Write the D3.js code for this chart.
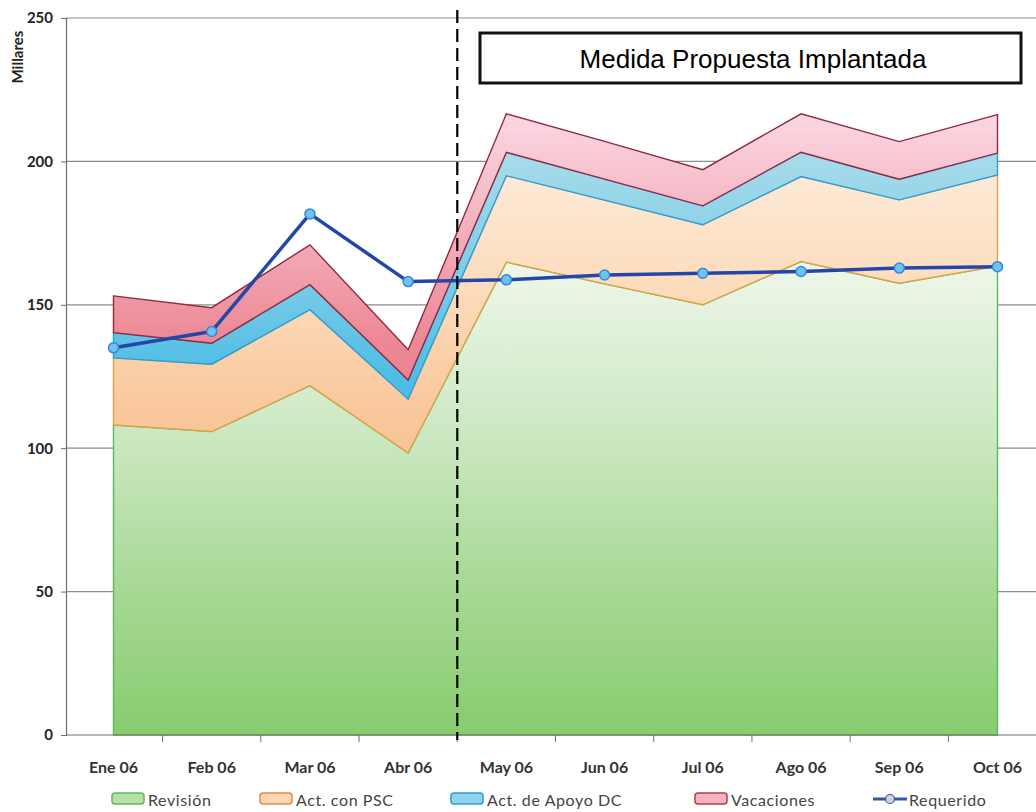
<!DOCTYPE html>
<html>
<head>
<meta charset="utf-8">
<script src="https://cdn.jsdelivr.net/npm/d3@7"></script>
<style>
  html, body { margin: 0; padding: 0; background: #ffffff; }
  svg { display: block; }
</style>
</head>
<body>
<svg id="chart" width="1036" height="812"></svg>
<script>
// Monthly hours (thousands) by activity, stacked, plus the required level
const months = ["Ene 06", "Feb 06", "Mar 06", "Abr 06", "May 06", "Jun 06", "Jul 06", "Ago 06", "Sep 06", "Oct 06"];
const revision   = [108.1, 105.8, 121.8, 98.3, 164.9, 157.3, 150.0, 165.1, 157.5, 163.5];
const actPSC     = [23.4, 23.5, 26.5, 18.8, 30.1, 29.2, 27.9, 29.6, 29.1, 31.8];
const actApoyoDC = [8.8, 7.3, 8.7, 6.7, 8.2, 7.3, 6.6, 8.5, 7.2, 7.6];
const vacaciones = [12.8, 12.4, 13.9, 10.5, 13.4, 13.2, 12.6, 13.4, 13.1, 13.4];
const requerido  = [135.0, 140.7, 181.7, 158.1, 158.7, 160.4, 161.0, 161.6, 162.8, 163.3];
const yTicks = [0, 50, 100, 150, 200, 250];
const seriesNames = ["Revisión", "Act. con PSC", "Act. de Apoyo DC", "Vacaciones"];
const lineName = "Requerido";
const phaseLabel = "Medida Propuesta Implantada";
const phaseStart = "May 06";

const svg = d3.select("#chart");
const W = 1036;
const axisX = 66;

const x = d3.scalePoint().domain(months).range([113.5, 997.5]);
const step = x.step();
const y = d3.scaleLinear().domain([0, 250]).range([735, 18]);

const rows = months.map((m, i) => ({
  month: m,
  "Revisión": revision[i],
  "Act. con PSC": actPSC[i],
  "Act. de Apoyo DC": actApoyoDC[i],
  "Vacaciones": vacaciones[i]
}));
const stacked = d3.stack().keys(seriesNames)(rows);

// Vertical gradients, paler towards the top of the plot
const defs = svg.append("defs");
const grads = {
  "Revisión": [[0, "#ffffff"], [0.32, "#f1f8ee"], [0.58, "#cce8c2"], [0.8, "#a6d894"], [1, "#88cc6e"]],
  "Act. con PSC": [[0, "#fff6ee"], [0.2, "#fdebd9"], [0.38, "#fcdcbc"], [0.55, "#f9c79b"], [1, "#f5b279"]],
  "Act. de Apoyo DC": [[0, "#cdeef4"], [0.18, "#aadcea"], [0.35, "#7fcde7"], [0.5, "#4fbde6"], [1, "#2aa8de"]],
  "Vacaciones": [[0, "#fde9f0"], [0.15, "#f9d4df"], [0.3, "#f3aebb"], [0.45, "#ec8895"], [1, "#e06070"]]
};
const strokes = {
  "Revisión": "#5cb85c",
  "Act. con PSC": "#dba24a",
  "Act. de Apoyo DC": "#2a9fd8",
  "Vacaciones": "#8e2a3e"
};
seriesNames.forEach((k, i) => {
  const g = defs.append("linearGradient")
    .attr("id", "grad" + i)
    .attr("gradientUnits", "userSpaceOnUse")
    .attr("x1", 0).attr("x2", 0)
    .attr("y1", y(250)).attr("y2", y(0));
  grads[k].forEach(([o, c]) => g.append("stop").attr("offset", o).attr("stop-color", c));
});

// Horizontal gridlines (behind the areas)
svg.append("g").selectAll("line")
  .data(yTicks.filter(d => d > 0))
  .join("line")
  .attr("x1", axisX).attr("x2", W)
  .attr("y1", d => y(d)).attr("y2", d => y(d))
  .attr("stroke", "#8c8c8c").attr("stroke-width", 1.2);

// Stacked areas
const area = d3.area()
  .x(d => x(d.data.month))
  .y0(d => y(d[0]))
  .y1(d => y(d[1]));
svg.append("g").selectAll("path")
  .data(stacked)
  .join("path")
  .attr("d", area)
  .attr("fill", (d, i) => "url(#grad" + i + ")")
  .attr("stroke", d => strokes[d.key])
  .attr("stroke-width", 1.4)
  .attr("stroke-linejoin", "miter");

// Y axis
const yAxis = d3.axisLeft(y).tickValues(yTicks).tickSize(5).tickPadding(8);
const gy = svg.append("g").attr("transform", `translate(${axisX},0)`).call(yAxis);
gy.select(".domain").attr("stroke", "#6e6e6e").attr("stroke-width", 1.2);
gy.selectAll(".tick line").attr("stroke", "#6e6e6e");
gy.selectAll(".tick text")
  .attr("font-family", "Lato, 'Open Sans', sans-serif")
  .attr("font-weight", "bold").attr("font-size", 15).attr("fill", "#222");

svg.append("text")
  .attr("transform", "translate(23,57) rotate(-90)")
  .attr("text-anchor", "middle")
  .attr("font-family", "Lato, 'Open Sans', sans-serif")
  .attr("font-weight", "bold").attr("font-size", 15).attr("fill", "#222")
  .text("Millares");

// X axis: ticks on category boundaries, labels on categories
const boundaries = months.slice(1).map(m => x(m) - step / 2);
const gx = svg.append("g");
gx.append("line").attr("x1", axisX).attr("x2", W).attr("y1", y(0)).attr("y2", y(0))
  .attr("stroke", "#6e6e6e").attr("stroke-width", 1.2);
gx.selectAll("line.tk").data(boundaries).join("line").attr("class", "tk")
  .attr("x1", d => d).attr("x2", d => d)
  .attr("y1", y(0)).attr("y2", y(0) + 7)
  .attr("stroke", "#6e6e6e");
gx.selectAll("text").data(months).join("text")
  .attr("x", d => x(d)).attr("y", y(0) + 38)
  .attr("text-anchor", "middle")
  .attr("font-family", "Lato, 'Open Sans', sans-serif")
  .attr("font-weight", "bold").attr("font-size", 16).attr("fill", "#333")
  .text(d => d);

// Requerido line with markers
const line = d3.line().x((d, i) => x(months[i])).y(d => y(d));
svg.append("path")
  .datum(requerido)
  .attr("d", line)
  .attr("fill", "none")
  .attr("stroke", "#2546a8")
  .attr("stroke-width", 3.5)
  .attr("stroke-linejoin", "round");
svg.append("g").selectAll("circle")
  .data(requerido)
  .join("circle")
  .attr("cx", (d, i) => x(months[i]))
  .attr("cy", d => y(d))
  .attr("r", 5)
  .attr("fill", "#6cc2f0")
  .attr("stroke", "#3b86d6")
  .attr("stroke-width", 1.5);

// Phase divider and label
const divX = x(phaseStart) - step / 2;
svg.append("line")
  .attr("x1", divX).attr("x2", divX)
  .attr("y1", 10).attr("y2", y(0) + 5)
  .attr("stroke", "#000").attr("stroke-width", 2.2)
  .attr("stroke-dasharray", "13,6");

svg.append("rect")
  .attr("x", 480).attr("y", 33).attr("width", 541).attr("height", 50)
  .attr("fill", "#fff").attr("stroke", "#111").attr("stroke-width", 3);
svg.append("text")
  .attr("x", 753).attr("y", 68)
  .attr("text-anchor", "middle")
  .attr("font-family", "'Liberation Sans', Arial, sans-serif")
  .attr("font-size", 26).attr("fill", "#000")
  .text(phaseLabel);

// Legend
const legendItems = [
  { name: seriesNames[0], x: 112, fill: "#b6e0a8", stroke: "#5cb85c" },
  { name: seriesNames[1], x: 260, fill: "#fbd6b2", stroke: "#e08a4a" },
  { name: seriesNames[2], x: 451, fill: "#8fd3ea", stroke: "#2a9fd8" },
  { name: seriesNames[3], x: 695, fill: "#f4b3c0", stroke: "#b8384e" }
];
const lg = svg.append("g");
legendItems.forEach(it => {
  lg.append("rect")
    .attr("x", it.x).attr("y", 793).attr("width", 32).attr("height", 11).attr("rx", 3)
    .attr("fill", it.fill).attr("stroke", it.stroke).attr("stroke-width", 1.5);
  lg.append("text")
    .attr("x", it.x + 36).attr("y", 806)
    .attr("font-family", "Lato, 'Open Sans', sans-serif")
    .attr("font-size", 16).attr("letter-spacing", 0.6).attr("fill", "#444")
    .text(it.name);
});
lg.append("line").attr("x1", 873).attr("x2", 907).attr("y1", 799).attr("y2", 799)
  .attr("stroke", "#3a55a8").attr("stroke-width", 3);
lg.append("circle").attr("cx", 890).attr("cy", 799).attr("r", 4.5)
  .attr("fill", "#cfd3dc").attr("stroke", "#3a55a8").attr("stroke-width", 1.2);
lg.append("text")
  .attr("x", 909).attr("y", 806)
  .attr("font-family", "Lato, 'Open Sans', sans-serif")
  .attr("font-size", 16).attr("letter-spacing", 0.6).attr("fill", "#444")
  .text(lineName);
</script>
</body>
</html>
